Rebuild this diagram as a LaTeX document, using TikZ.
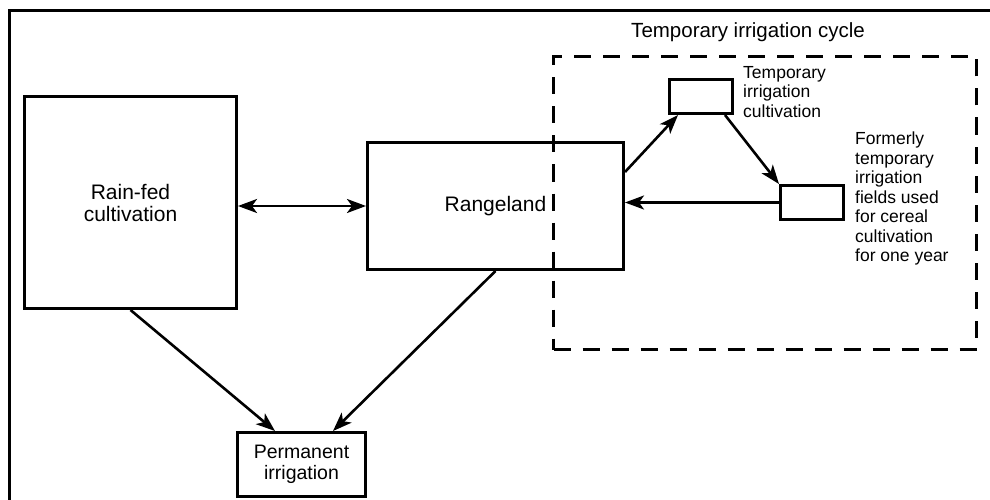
\documentclass[tikz,border=0pt]{standalone}
\usepackage{fontspec}
\setmainfont{Liberation Sans}
\usetikzlibrary{arrows.meta,calc}
\tikzset{
  box/.style={draw, line width=3pt, inner sep=0pt, anchor=north west},
  mainlbl/.style={font=\fontsize{21}{22}\selectfont, align=center},
  sidelbl/.style={font=\fontsize{17.5}{19.5}\selectfont, align=left, anchor=north west, inner sep=0pt},
  tip/.style={},
  arr/.style={line width=2.6pt, -{Stealth[length=19pt,width=14pt,inset=5pt]}},
  darr/.style={line width=2.6pt, {Stealth[length=19pt,width=14pt,inset=5pt]}-{Stealth[length=19pt,width=14pt,inset=5pt]}},
  cyclebox/.style={draw, line width=3pt, dash pattern=on 17pt off 12pt}
}
\begin{document}
\begin{tikzpicture}[x=1pt,y=-1pt]
\useasboundingbox (0,0) rectangle (990,500);
% outer frame (left and top only)
\draw[line width=3pt] (9,500) -- (9,11) -- (990,11);
% dashed cycle region
\node[cyclebox, minimum width=423pt, minimum height=293pt, anchor=north west] (cycle) at (552,55) {};
\node[font=\fontsize{20.5}{22}\selectfont, anchor=center] (cyclelbl) at (748,32) {Temporary irrigation cycle};
% boxes
\node[box, minimum width=212pt, minimum height=212pt] (rain) at (23,95) {};
\node[mainlbl] (rainlbl) at (rain.center) {Rain-fed\\cultivation};
\node[box, minimum width=256pt, minimum height=127pt] (range) at (366,141) {};
\node[mainlbl] (rangelbl) at (range.center) {Rangeland};
\node[box, minimum width=128pt, minimum height=64pt] (perm) at (236,431) {};
\node[mainlbl, font=\fontsize{19.5}{21}\selectfont] (permlbl) at (perm.center) {Permanent\\irrigation};
\node[box, minimum width=63pt, minimum height=34pt] (temp) at (668,78) {};
\node[sidelbl] (templbl) at (743,66) {Temporary\\irrigation\\cultivation};
\node[box, minimum width=63pt, minimum height=34pt] (form) at (779,184) {};
\node[sidelbl] (formlbl) at (855,132) {Formerly\\temporary\\irrigation\\fields used\\for cereal\\cultivation\\for one year};
% connectors
\draw[darr] (rain.east |- range.west) -- (range.west);
\draw[arr] ([yshift=34pt]range.east) -- ([xshift=10pt]temp.south west);
\draw[arr] ([xshift=-9pt]temp.south east) -- (form.north west);
\draw[arr] (form.west) -- (form.west -| range.east);
\draw[arr] (rain.south) -- ([xshift=39pt]perm.north west);
\draw[arr] (range.south) -- ([xshift=-34pt]perm.north east);
\end{tikzpicture}
\end{document}
